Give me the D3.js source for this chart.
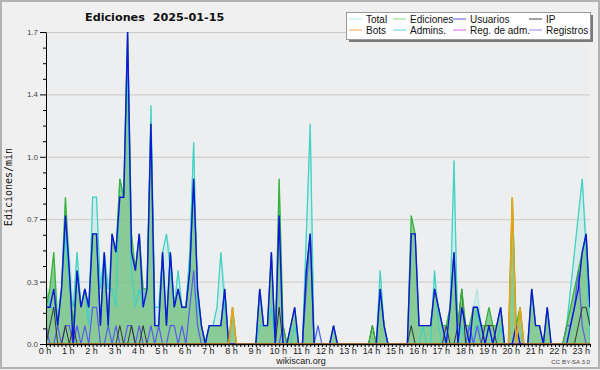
<!DOCTYPE html>
<html><head><meta charset="utf-8">
<script src="https://cdn.jsdelivr.net/npm/d3@7/dist/d3.min.js"></script>
<style>body{margin:0;background:#f0f0f0}svg{display:block}</style>
</head><body><svg id="c" width="600" height="370"></svg>
<script>
// ---- data: one value every 10 minutes from 00:00 to 23:20 (edits per minute) ----
const hourLabels = d3.range(24).map(h => h + " h");
const yTicks = [0, 0.34, 0.68, 1.02, 1.36, 1.7];
const yTickLabels = ["0.0", "0.3", "0.7", "1.0", "1.4", "1.7"];
const legendLabels = ["Total", "Ediciones", "Usuarios", "IP", "Bots", "Admins.", "Reg. de adm.", "Registros"];

const total = [
 0.3,0.3,0.5,0.2,0.3,0.8, 0.5,0.2,0.5,0.2,0.3,0.2, 0.8,0.8,0.3,0.5,0.3,0.6, 0.5,0.9,0.8,1.7,0.6,0.4,
 0.6,0.3,0.3,1.3,0.2,0.2, 0.5,0.6,0.5,0.2,0.4,0.2, 0.2,0.5,1.1,0.3,0.1,0, 0.1,0.1,0.2,0.5,0.3,0,
 0.2,0,0,0,0,0, 0,0.3,0.1,0.1,0.5,0, 0.9,0.1,0,0.1,0.2,0, 0,0.6,1.2,0,0.1,0,
 0,0,0.1,0,0,0, 0,0,0,0,0,0, 0.1,0,0.4,0.1,0,0, 0,0,0,0,0.7,0.6,
 0.1,0.1,0.1,0.1,0.4,0.2, 0.1,0.1,0.2,1.0,0.1,0.3, 0.1,0.1,0.2,0.3,0.1,0.1, 0.2,0.1,0.1,0.2,0,0,
 0.8,0.1,0.2,0,0,0.3, 0.1,0.1,0,0.2,0,0, 0,0,0.1,0.3,0.5,0.7, 0.9,0.6,0.2];
const ediciones = [
 0.2,0.3,0.5,0.1,0.3,0.8, 0.4,0.1,0.4,0.2,0.3,0.2, 0.6,0.6,0.1,0.5,0.1,0.6, 0.5,0.9,0.8,1.7,0.6,0.4,
 0.6,0.3,0.3,1.2,0.1,0.1, 0.5,0.1,0.5,0.2,0.3,0.2, 0.2,0.4,0.9,0.3,0.1,0, 0.1,0.1,0.1,0.1,0.3,0,
 0.2,0,0,0,0,0, 0,0.3,0.1,0.1,0.5,0, 0.9,0.1,0,0.1,0.2,0, 0,0.4,0.6,0,0,0,
 0,0,0.1,0,0,0, 0,0,0,0,0,0, 0.1,0,0.3,0.1,0,0, 0,0,0,0,0.7,0.6,
 0.1,0.1,0.1,0.1,0.3,0.2, 0.1,0.1,0.2,0.5,0.1,0.3, 0.1,0.1,0.2,0.2,0.1,0.1, 0.2,0.1,0.1,0.2,0,0,
 0.8,0.1,0.2,0,0,0.3, 0.1,0.1,0,0.2,0,0, 0,0,0.1,0.2,0.3,0.4, 0.5,0.6,0.2];
const usuarios = [
 0.2,0.2,0.3,0.1,0.3,0.7, 0.4,0,0.4,0.2,0.3,0.2, 0.6,0.6,0.1,0.5,0.1,0.6, 0.5,0.8,0.8,1.7,0.5,0.4,
 0.6,0.2,0.3,1.2,0.1,0.1, 0.5,0.1,0.5,0.2,0.3,0.2, 0.2,0.4,0.9,0.3,0.1,0, 0.1,0.1,0.1,0.1,0.3,0,
 0,0,0,0,0,0, 0,0.3,0.1,0.1,0.5,0, 0.7,0,0,0.1,0.2,0, 0,0.4,0.6,0,0,0,
 0,0,0.1,0,0,0, 0,0,0,0,0,0, 0,0,0.3,0.1,0,0, 0,0,0,0,0.6,0.6,
 0.1,0.1,0.1,0.1,0.3,0.2, 0.1,0,0.2,0.5,0,0.2, 0.1,0,0.2,0.2,0.1,0, 0.1,0,0.1,0.2,0,0,
 0,0.1,0,0,0,0.3, 0.1,0.1,0,0.2,0,0, 0,0,0,0.1,0.2,0.3, 0.5,0.6,0.2];
const ip = [
 0,0.1,0.2,0,0,0.1, 0,0.1,0,0,0,0, 0,0,0,0,0,0, 0,0.1,0,0,0.1,0,
 0,0.1,0,0,0,0, 0,0,0,0,0,0, 0,0,0,0,0,0, 0,0,0,0,0,0,
 0,0,0,0,0,0, 0,0,0,0,0,0, 0.2,0,0,0,0,0, 0,0,0,0,0,0,
 0,0,0,0,0,0, 0,0,0,0,0,0, 0.1,0,0,0,0,0, 0,0,0,0,0.1,0,
 0,0,0,0,0,0, 0,0.1,0,0,0.1,0.3, 0,0,0,0,0,0.1, 0.1,0.1,0,0,0,0,
 0,0,0,0,0,0, 0,0,0,0,0,0, 0,0,0,0,0,0.1, 0.2,0.2,0.1];
const bots = [
 0,0,0,0,0,0, 0,0,0,0,0,0, 0,0,0,0,0,0, 0,0,0,0,0,0,
 0,0,0,0,0,0, 0,0,0,0,0,0, 0,0,0,0,0,0, 0,0,0,0,0,0,
 0.2,0,0,0,0,0, 0,0,0,0,0,0, 0,0,0,0,0,0, 0,0,0,0,0,0,
 0,0,0,0,0,0, 0,0,0,0,0,0, 0,0,0,0,0,0, 0,0,0,0,0,0,
 0,0,0,0,0,0, 0,0,0,0,0,0, 0,0,0,0,0,0, 0,0,0,0,0,0,
 0.8,0,0.2,0,0,0, 0,0,0,0,0,0, 0,0,0,0,0,0, 0,0,0];
const admins = [
 0.3,0.2,0.2,0.1,0.3,0.6, 0.3,0.2,0.5,0.2,0.3,0.1, 0.8,0.8,0.3,0.5,0.3,0.3, 0.2,0.9,0.8,1.5,0.4,0.2,
 0.3,0.2,0.3,1.3,0.2,0.2, 0.5,0.6,0.4,0.2,0.4,0.2, 0.2,0.5,1.1,0.2,0.1,0, 0.1,0.1,0.2,0.5,0.2,0,
 0,0,0,0,0,0, 0,0.1,0.1,0.1,0.2,0, 0.8,0,0,0,0.1,0, 0,0.6,1.2,0,0,0,
 0,0,0,0,0,0, 0,0,0,0,0,0, 0,0,0.4,0.1,0,0, 0,0,0,0,0,0,
 0,0.1,0,0,0.4,0.1, 0,0,0.2,1.0,0,0.1, 0,0.1,0,0.2,0,0, 0.1,0,0,0.1,0,0,
 0,0,0,0,0,0, 0,0,0,0,0,0, 0,0,0.1,0.3,0.5,0.7, 0.9,0.5,0];
const regAdm = [
 0,0,0,0,0,0, 0,0,0,0,0,0, 0,0,0,0,0,0, 0,0,0,0,0,0,
 0,0,0,0,0,0, 0,0,0,0,0,0, 0,0,0,0,0,0, 0,0,0,0,0,0,
 0,0,0,0,0,0, 0,0,0,0,0,0, 0,0,0,0,0,0, 0,0,0,0,0,0,
 0,0,0,0,0,0, 0,0,0,0,0,0, 0,0,0,0,0,0, 0,0,0,0,0,0,
 0,0,0,0,0,0, 0,0,0,0,0,0, 0,0,0,0,0,0, 0,0,0,0,0,0,
 0,0,0,0,0,0, 0,0,0,0,0,0, 0,0,0,0,0,0, 0,0,0];
const registros = [
 0.1,0,0,0.1,0,0.1, 0.1,0,0.1,0,0.1,0, 0.2,0.2,0,0,0.1,0, 0.1,0,0,0.1,0.1,0,
 0.1,0,0,0.1,0,0.1, 0,0,0.1,0.1,0,0.1, 0,0.2,0.4,0.1,0,0, 0,0,0,0,0,0,
 0,0,0,0,0,0, 0,0,0,0,0,0, 0,0.1,0,0,0,0, 0,0.3,0.6,0,0.1,0,
 0,0,0,0,0,0, 0,0,0,0,0,0, 0,0,0,0,0,0, 0,0,0,0,0,0,
 0,0,0,0,0,0, 0,0,0,0,0,0, 0,0.1,0,0.1,0,0, 0,0,0,0,0,0,
 0,0,0,0,0,0, 0,0,0,0,0,0, 0,0,0.1,0.1,0.2,0.4, 0.1,0,0];

// ---- layout ----
const svg = d3.select("#c");
const L = 46, R = 590, T = 32, B = 344;
const x = d3.scaleLinear().domain([0, 140]).range([L, R]);
const y = d3.scaleLinear().domain([0, 1.7]).range([B, T]);

svg.append("rect").attr("x", 1).attr("y", 1).attr("width", 598).attr("height", 367)
  .attr("fill", "#f0f0f0").attr("stroke", "#b2b2b2").attr("stroke-width", 2);
svg.append("rect").attr("x", L).attr("y", T).attr("width", R - L).attr("height", B - T).attr("fill", "#edeef0");

// grid
svg.append("g").selectAll("line").data(yTicks.slice(1)).join("line")
  .attr("x1", L).attr("x2", R).attr("y1", d => y(d) + 0.5).attr("y2", d => y(d) + 0.5)
  .attr("stroke", "#c9c9c9").attr("stroke-width", 1);

svg.append("defs").append("clipPath").attr("id", "clip").append("rect")
  .attr("x", L).attr("y", T - 5).attr("width", R - L).attr("height", B - T + 5);
const g = svg.append("g").attr("clip-path", "url(#clip)");

const area = d3.area().x((d, i) => x(i)).y0(y(0)).y1(d => y(d));
const line = d3.line().x((d, i) => x(i)).y(d => y(d));

g.append("path").datum(total).attr("d", area).attr("fill", "#bfe9e6").attr("opacity", 0.6);
g.append("path").datum(ediciones).attr("d", area).attr("fill", "#4cb050").attr("opacity", 0.55);
g.append("path").datum(total).attr("d", line).attr("fill", "none").attr("stroke", "#a6e2e0").attr("stroke-width", 1);
g.append("path").datum(admins).attr("d", line).attr("fill", "none").attr("stroke", "#3ed2c4").attr("stroke-width", 1.2);
g.append("path").datum(registros).attr("d", line).attr("fill", "none").attr("stroke", "#5a5aee").attr("stroke-width", 1.2);
g.append("path").datum(ip).attr("d", line).attr("fill", "none").attr("stroke", "#333").attr("stroke-width", 1);
g.append("path").datum(ediciones).attr("d", line).attr("fill", "none").attr("stroke", "#38b238").attr("stroke-width", 1.3);
g.append("path").datum(usuarios).attr("d", line).attr("fill", "none").attr("stroke", "#0c16dc").attr("stroke-width", 1.4);
g.append("path").datum(regAdm).attr("d", line).attr("fill", "none").attr("stroke", "#cc44dd").attr("stroke-width", 1);
g.append("path").datum(bots).attr("d", line).attr("fill", "none").attr("stroke", "#f0a010").attr("stroke-width", 1.5);

// y axis
const yAxis = d3.axisLeft(y).tickValues(yTicks).tickFormat((d, i) => yTickLabels[i]).tickSize(6).tickSizeOuter(0);
const ya = svg.append("g").attr("transform", `translate(${L},0)`).call(yAxis);
ya.select(".domain").attr("stroke", "#000");
ya.selectAll(".tick line").attr("stroke", "#000");
ya.selectAll("text").attr("font-family", "Liberation Sans, Arial, sans-serif").attr("font-size", 8).attr("fill", "#444").attr("dx", 1);
const minor = d3.range(0, 21).map(k => k * 0.085).filter((d, k) => k % 4 !== 0);
svg.append("g").attr("transform", `translate(${L},0)`).call(d3.axisLeft(y).tickValues(minor).tickFormat("").tickSize(3).tickSizeOuter(0))
  .call(s => s.select(".domain").remove()).selectAll("line").attr("stroke", "#000");

// x axis
const xa = svg.append("g").attr("transform", `translate(0,${B})`)
  .call(d3.axisBottom(x).tickValues(d3.range(0, 141)).tickFormat("").tickSize(3).tickSizeOuter(0));
xa.select(".domain").attr("stroke", "#000").attr("stroke-width", 1.5);
xa.selectAll(".tick line").attr("stroke", "#000");
svg.append("g").selectAll("text").data(hourLabels).join("text")
  .attr("x", (d, i) => x(i * 6) - 1).attr("y", 354)
  .attr("text-anchor", "middle").attr("font-family", "Liberation Sans, Arial, sans-serif")
  .attr("font-size", 9).attr("fill", "#222").text(d => d);

// titles
svg.append("text").attr("x", 85).attr("y", 21).attr("font-family", "DejaVu Sans, sans-serif")
  .attr("font-weight", "bold").attr("font-size", 11.2).attr("fill", "#111").attr("xml:space", "preserve")
  .text("Ediciones  2025-01-15");
svg.append("text").attr("transform", "translate(12,187) rotate(-90)").attr("text-anchor", "middle")
  .attr("font-family", "DejaVu Sans Mono, monospace").attr("font-size", 10).attr("fill", "#111").text("Ediciones/min");
svg.append("text").attr("x", 301).attr("y", 364).attr("text-anchor", "middle")
  .attr("font-family", "Liberation Sans, Arial, sans-serif").attr("font-size", 9).attr("fill", "#222").text("wikiscan.org");
svg.append("text").attr("x", 590).attr("y", 364).attr("text-anchor", "end")
  .attr("font-family", "Liberation Sans, Arial, sans-serif").attr("font-size", 6.2).attr("fill", "#444").text("CC BY-SA 3.0");

// legend
const legendColors = ["#b4eaea", "#8ad88a", "#5252d6", "#444444", "#f4a848", "#5ccfe0", "#d468e4", "#8a8af2"];
const lg = svg.append("g");
lg.append("rect").attr("x", 349).attr("y", 15).attr("width", 244).attr("height", 27).attr("fill", "#7a7a7a");
lg.append("rect").attr("x", 346.5).attr("y", 12.5).attr("width", 244).attr("height", 27).attr("fill", "#fff").attr("stroke", "#999");
const colX = [349, 393, 453, 529];
const rowY = [19, 30];
legendLabels.forEach((lab, k) => {
  const cx = colX[k % 4], cy = rowY[Math.floor(k / 4)];
  lg.append("line").attr("x1", cx).attr("x2", cx + 13).attr("y1", cy).attr("y2", cy)
    .attr("stroke", legendColors[k]).attr("stroke-width", 1);
  lg.append("text").attr("x", cx + 17).attr("y", cy + 3.5).attr("font-family", "Liberation Sans, Arial, sans-serif")
    .attr("font-size", 10).attr("fill", "#111").text(lab);
});
</script></body></html>
